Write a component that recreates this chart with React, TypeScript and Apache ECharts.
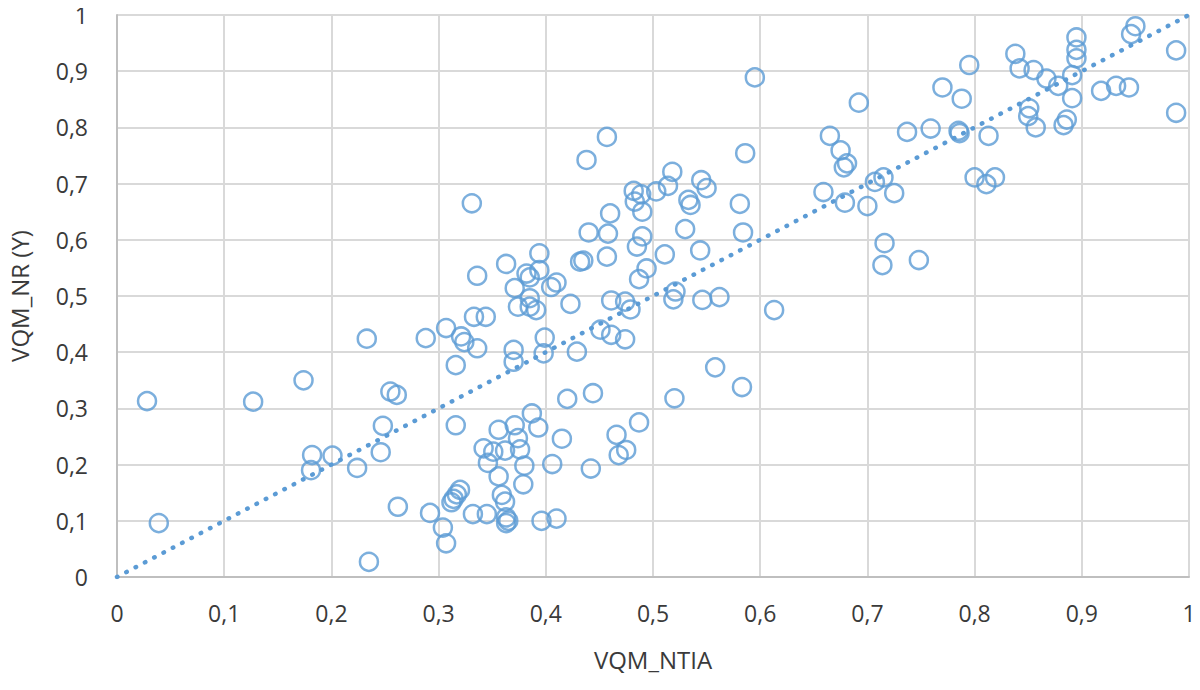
import React, { useEffect, useRef } from "react";
import * as echarts from "echarts";

const xTitle = "VQM_NTIA";
const yTitle = "VQM_NR (Y)";

const vqmNtia = [
  0.028, 0.039, 0.127, 0.174, 0.182, 0.181, 0.201, 0.224, 0.233, 0.235,
  0.248, 0.246, 0.255, 0.261, 0.262, 0.288, 0.292, 0.304, 0.307, 0.307,
  0.312, 0.314, 0.317, 0.32, 0.316, 0.316, 0.321, 0.324, 0.331, 0.336,
  0.333, 0.344, 0.336, 0.332, 0.345, 0.342, 0.351, 0.346, 0.356, 0.356,
  0.359, 0.362, 0.363, 0.363, 0.365, 0.362, 0.363, 0.371, 0.374, 0.376,
  0.38, 0.379, 0.387, 0.393, 0.37, 0.37, 0.371, 0.374, 0.382, 0.385,
  0.394, 0.394, 0.385, 0.385, 0.391, 0.396, 0.41, 0.406, 0.415, 0.42,
  0.399, 0.398, 0.405, 0.41, 0.423, 0.429, 0.432, 0.435, 0.44, 0.438,
  0.444, 0.442, 0.451, 0.461, 0.457, 0.458, 0.46, 0.457, 0.461, 0.466,
  0.468, 0.475, 0.474, 0.479, 0.474, 0.482, 0.489, 0.483, 0.49, 0.49,
  0.485, 0.494, 0.487, 0.487, 0.503, 0.514, 0.518, 0.511, 0.52, 0.521,
  0.519, 0.53, 0.533, 0.535, 0.545, 0.55, 0.544, 0.546, 0.562, 0.558,
  0.581, 0.584, 0.586, 0.583, 0.595, 0.613, 0.659, 0.665, 0.675, 0.681,
  0.678, 0.679, 0.692, 0.7, 0.707, 0.715, 0.725, 0.716, 0.714, 0.748,
  0.737, 0.759, 0.77, 0.785, 0.786, 0.788, 0.795, 0.8, 0.811, 0.819,
  0.813, 0.838, 0.842, 0.855, 0.867, 0.878, 0.851, 0.85, 0.857, 0.891,
  0.895, 0.895, 0.895, 0.891, 0.886, 0.883, 0.918, 0.932, 0.944, 0.946,
  0.95, 0.988, 0.988,
];

const vqmNr = [
  0.313, 0.096, 0.312, 0.35, 0.217, 0.19, 0.216, 0.194, 0.424, 0.027,
  0.269, 0.222, 0.33, 0.324, 0.125, 0.425, 0.114, 0.088, 0.06, 0.443,
  0.133, 0.139, 0.147, 0.155, 0.27, 0.377, 0.428, 0.418, 0.665, 0.536,
  0.463, 0.463, 0.407, 0.112, 0.112, 0.229, 0.223, 0.203, 0.262, 0.179,
  0.146, 0.134, 0.106, 0.096, 0.1, 0.225, 0.557, 0.27, 0.247, 0.227,
  0.198, 0.165, 0.291, 0.266, 0.404, 0.383, 0.514, 0.481, 0.54, 0.533,
  0.546, 0.576, 0.496, 0.481, 0.475, 0.1, 0.104, 0.201, 0.246, 0.317,
  0.426, 0.398, 0.516, 0.524, 0.486, 0.401, 0.561, 0.563, 0.613, 0.742,
  0.327, 0.193, 0.44, 0.431, 0.57, 0.611, 0.647, 0.783, 0.492, 0.253,
  0.217, 0.226, 0.49, 0.476, 0.423, 0.687, 0.681, 0.668, 0.65, 0.606,
  0.588, 0.549, 0.53, 0.275, 0.686, 0.696, 0.721, 0.574, 0.318, 0.508,
  0.494, 0.619, 0.671, 0.662, 0.706, 0.692, 0.581, 0.493, 0.498, 0.373,
  0.664, 0.613, 0.754, 0.338, 0.889, 0.475, 0.685, 0.785, 0.759, 0.736,
  0.729, 0.666, 0.844, 0.66, 0.703, 0.711, 0.683, 0.594, 0.555, 0.564,
  0.792, 0.798, 0.871, 0.794, 0.79, 0.851, 0.911, 0.711, 0.699, 0.711,
  0.785, 0.931, 0.905, 0.902, 0.887, 0.874, 0.834, 0.82, 0.8, 0.893,
  0.923, 0.938, 0.96, 0.852, 0.814, 0.804, 0.865, 0.874, 0.871, 0.966,
  0.98, 0.937, 0.826,
];

const trendX = [0, 1];
const trendY = [0, 1];

const fmt = (v: number) => String(Math.round(v * 10) / 10).replace(".", ",");

export default function App() {
  const ref = useRef<HTMLDivElement>(null);
  useEffect(() => {
    if (!ref.current) return;
    const chart = echarts.init(ref.current, undefined, { renderer: "svg" });
    const points = vqmNtia.map((x, i) => [x, vqmNr[i]]);
    const trend = trendX.map((x, i) => [x, trendY[i]]);
    const labelColor = "#3a3a3a";
    const font = "'Open Sans', 'Liberation Sans', sans-serif";
    chart.setOption({
      animation: false,
      backgroundColor: "#ffffff",
      grid: {
        left: 117,
        right: 11,
        top: 15,
        bottom: 113,
        containLabel: false,
        outerBoundsMode: "none",
      },
      xAxis: {
        type: "value",
        min: 0,
        max: 1,
        interval: 0.1,
        name: xTitle,
        nameLocation: "middle",
        nameGap: 70,
        nameTextStyle: { fontSize: 24, color: labelColor, fontFamily: font },
        axisLine: { show: true, lineStyle: { color: "#bfbfbf", width: 2 } },
        axisTick: { show: false },
        axisLabel: {
          formatter: fmt,
          fontSize: 23,
          color: labelColor,
          fontFamily: font,
          margin: 24,
        },
        splitLine: { show: true, lineStyle: { color: "#d9d9d9", width: 2 } },
      },
      yAxis: {
        type: "value",
        min: 0,
        max: 1,
        interval: 0.1,
        name: yTitle,
        nameLocation: "middle",
        nameGap: 86,
        nameRotate: 90,
        nameTextStyle: { fontSize: 24, color: labelColor, fontFamily: font },
        axisLine: { show: true, lineStyle: { color: "#bfbfbf", width: 2 } },
        axisTick: { show: false },
        axisLabel: {
          formatter: fmt,
          fontSize: 23,
          color: labelColor,
          fontFamily: font,
          margin: 29,
        },
        splitLine: { show: true, lineStyle: { color: "#d9d9d9", width: 2 } },
      },
      series: [
        {
          type: "line",
          data: trend,
          showSymbol: false,
          symbol: "none",
          silent: true,
          z: 1,
          lineStyle: {
            color: "#5b9bd5",
            width: 4.5,
            type: [0.5, 10],
            cap: "round",
          },
        },
        {
          type: "scatter",
          data: points,
          symbol: "circle",
          symbolSize: 18,
          z: 2,
          itemStyle: {
            color: "rgba(255,255,255,0)",
            borderColor: "#5b9bd5",
            borderWidth: 2.5,
          },
        },
      ],
    });
    return () => chart.dispose();
  }, []);
  return <div ref={ref} style={{ width: 1200, height: 690, margin: -8 }} />;
}
